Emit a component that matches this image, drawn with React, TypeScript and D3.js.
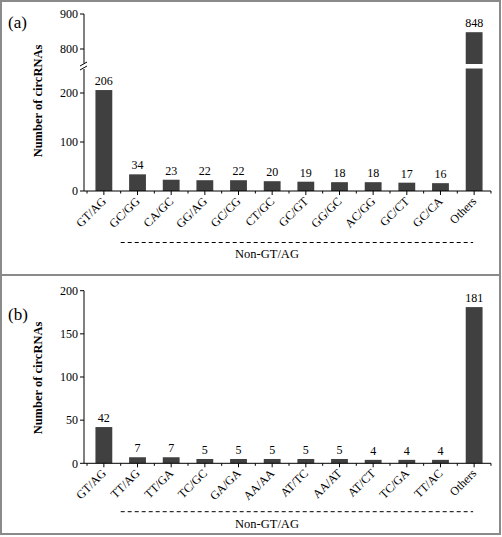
import React from "react";
import * as d3 from "d3";

const catsA = ["GT/AG","GC/GG","CA/GC","GG/AG","GC/CG","CT/GC","GC/GT","GG/GC","AC/GG","GC/CT","GC/CA","Others"];
const valsA = [206,34,23,22,22,20,19,18,18,17,16,848];
const catsB = ["GT/AG","TT/AG","TT/GA","TC/GC","GA/GA","AA/AA","AT/TC","AA/AT","AT/CT","TC/GA","TT/AC","Others"];
const valsB = [42,7,7,5,5,5,5,5,4,4,4,181];
const ticksALow = [0,100,200];
const ticksAHigh = [800,900];
const ticksB = [0,50,100,150,200];
const groupLabel = "Non-GT/AG";
const yTitle = "Number of circRNAs";

const FONT = "'Liberation Serif', 'Times New Roman', serif";
const BAR = "#404040";
const AX = "#000";

const xScale = (cats: string[]) =>
  d3.scaleBand<string>().domain(cats).range([84, 494]).paddingInner(0.5).paddingOuter(0.34);

function XAxis({ cats, y0, labelY, dashY, groupY }: { cats: string[]; y0: number; labelY: number; dashY: number; groupY: number }) {
  const x = xScale(cats);
  const step = x.step();
  const bw = x.bandwidth();
  const c = (k: string) => (x(k) as number) + bw / 2;
  const first = c(cats[0]);
  const last = c(cats[cats.length - 1]);
  return (
    <g>
      <line x1={84} x2={last + step / 2} y1={y0} y2={y0} stroke={AX} strokeWidth={1} />
      {cats.map((k) => (
        <g key={k}>
          <line x1={c(k)} x2={c(k)} y1={y0} y2={y0 + 4} stroke={AX} />
          <line x1={c(k) + step / 2} x2={c(k) + step / 2} y1={y0} y2={y0 + 2.5} stroke={AX} />
          <text
            transform={`translate(${c(k) + 3},${labelY}) rotate(-45)`}
            textAnchor="end"
            fontFamily={FONT}
            fontSize={12}
          >
            {k}
          </text>
        </g>
      ))}
      <line x1={first - step / 2} x2={first - step / 2} y1={y0} y2={y0 + 2.5} stroke={AX} />
      <line
        x1={c(cats[1]) - step / 2}
        x2={last - 1}
        y1={dashY}
        y2={dashY}
        stroke={AX}
        strokeWidth={1}
        strokeDasharray="4,3"
      />
      <text x={267} y={groupY} textAnchor="middle" fontFamily={FONT} fontSize={12.5}>
        {groupLabel}
      </text>
    </g>
  );
}

function PanelA() {
  const x = xScale(catsA);
  const bw = x.bandwidth();
  const yLow = d3.scaleLinear().domain([0, 250]).range([191, 68.5]);
  const yHigh = d3.scaleLinear().domain([760, 900]).range([63, 14]);
  const yOf = (v: number) => (v > 250 ? yHigh(v) : yLow(v));
  return (
    <g>
      <text x={8} y={28} fontFamily={FONT} fontSize={17}>(a)</text>
      <text
        transform={`translate(42,101) rotate(-90)`}
        textAnchor="middle"
        fontFamily={FONT}
        fontWeight="bold"
        fontSize={12.5}
      >
        {yTitle}
      </text>
      {/* y axis segments */}
      <line x1={84} x2={84} y1={yLow(0)} y2={69} stroke={AX} />
      <line x1={84} x2={84} y1={yHigh(900)} y2={63.5} stroke={AX} />
      <line x1={80} x2={87} y1={66} y2={62} stroke={AX} />
      <line x1={80} x2={87} y1={70} y2={66} stroke={AX} />
      {ticksALow.map((t) => (
        <g key={t}>
          <line x1={80} x2={84} y1={yLow(t)} y2={yLow(t)} stroke={AX} />
          <text x={78} y={yLow(t)} dy="0.35em" textAnchor="end" fontFamily={FONT} fontSize={12}>{t}</text>
        </g>
      ))}
      {ticksAHigh.map((t) => (
        <g key={t}>
          <line x1={80} x2={84} y1={yHigh(t)} y2={yHigh(t)} stroke={AX} />
          <text x={78} y={yHigh(t)} dy="0.35em" textAnchor="end" fontFamily={FONT} fontSize={12}>{t}</text>
        </g>
      ))}
      {catsA.map((k, i) => {
        const v = valsA[i];
        const x0 = x(k) as number;
        const broken = v > 250;
        return (
          <g key={k}>
            {broken ? (
              <>
                <rect x={x0} width={bw} y={yLow(250)} height={yLow(0) - yLow(250)} fill={BAR} />
                <rect x={x0} width={bw} y={yHigh(v)} height={yHigh(760) - yHigh(v) + 1} fill={BAR} />
              </>
            ) : (
              <rect x={x0} width={bw} y={yLow(v)} height={yLow(0) - yLow(v)} fill={BAR} />
            )}
            <text x={x0 + bw / 2} y={yOf(v) - 5} textAnchor="middle" fontFamily={FONT} fontSize={12}>{v}</text>
          </g>
        );
      })}
      <XAxis cats={catsA} y0={191} labelY={202} dashY={242.5} groupY={258} />
    </g>
  );
}

function PanelB() {
  const x = xScale(catsB);
  const bw = x.bandwidth();
  const y = d3.scaleLinear().domain([0, 200]).range([463.3, 290.7]);
  return (
    <g>
      <text x={8} y={320} fontFamily={FONT} fontSize={17}>(b)</text>
      <text
        transform={`translate(42,378) rotate(-90)`}
        textAnchor="middle"
        fontFamily={FONT}
        fontWeight="bold"
        fontSize={12.5}
      >
        {yTitle}
      </text>
      <line x1={84} x2={84} y1={y(0)} y2={y(200)} stroke={AX} />
      {ticksB.map((t) => (
        <g key={t}>
          <line x1={80} x2={84} y1={y(t)} y2={y(t)} stroke={AX} />
          <text x={78} y={y(t)} dy="0.35em" textAnchor="end" fontFamily={FONT} fontSize={12}>{t}</text>
        </g>
      ))}
      {catsB.map((k, i) => {
        const v = valsB[i];
        const x0 = x(k) as number;
        return (
          <g key={k}>
            <rect x={x0} width={bw} y={y(v)} height={y(0) - y(v)} fill={BAR} />
            <text x={x0 + bw / 2} y={y(v) - 5} textAnchor="middle" fontFamily={FONT} fontSize={12}>{v}</text>
          </g>
        );
      })}
      <XAxis cats={catsB} y0={463.3} labelY={474} dashY={511.7} groupY={528} />
    </g>
  );
}

export default function App() {
  return (
    <svg
      width={502}
      height={537}
      style={{ position: "absolute", left: 0, top: 0, background: "#fff" }}
    >
      <rect x={0} y={0} width={502} height={537} fill="#fff" />
      <rect x={1} y={1} width={499} height={533} fill="none" stroke="#8a8a8a" strokeWidth={2} />
      <line x1={1} x2={500} y1={275} y2={275} stroke="#8a8a8a" strokeWidth={2} />
      <PanelA />
      <PanelB />
    </svg>
  );
}
